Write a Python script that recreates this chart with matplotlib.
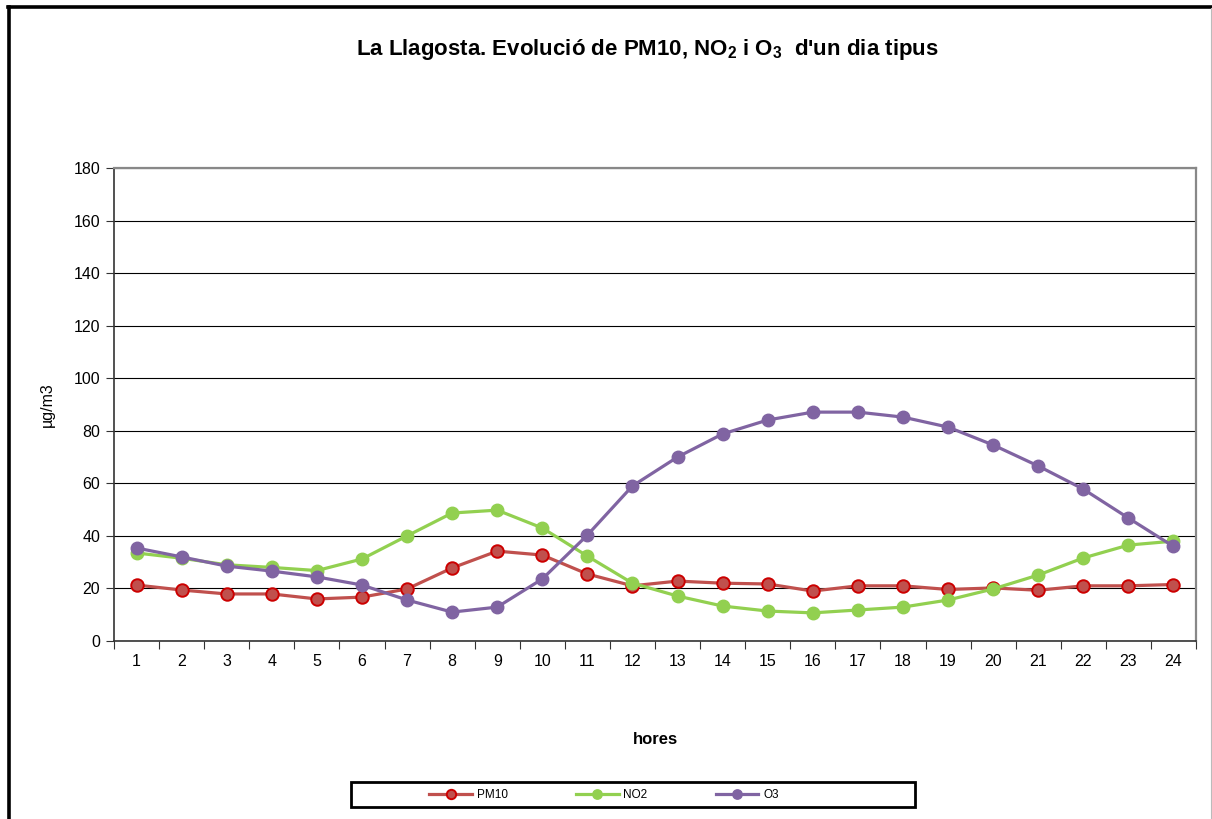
import numpy as np
import matplotlib
matplotlib.use("Agg")
import matplotlib.pyplot as plt
from matplotlib.lines import Line2D
from matplotlib.patches import Rectangle

plt.rcParams.update({
    "font.family": ["Liberation Sans", "DejaVu Sans"],
    "mathtext.fontset": "custom",
    "mathtext.rm": "Liberation Sans",
    "mathtext.bf": "Liberation Sans:bold",
})

# ---------- data ----------------------------------------------------------
hores = list(range(1, 25))
pm10 = [21.3, 19.4, 17.9, 17.9, 16.0, 16.7, 19.8, 27.8, 34.2, 32.7, 25.5, 21.0,
        22.8, 22.0, 21.7, 19.0, 21.0, 21.0, 19.6, 20.2, 19.3, 21.0, 21.0, 21.5]
no2 = [33.5, 31.5, 29.0, 28.0, 26.8, 31.2, 40.0, 48.7, 49.8, 43.0, 32.3, 22.0,
       17.1, 13.3, 11.4, 10.7, 11.8, 12.9, 15.6, 19.8, 25.1, 31.6, 36.5, 38.0]
o3 = [35.4, 32.0, 28.5, 26.6, 24.4, 21.3, 15.6, 11.0, 12.9, 23.6, 40.3, 59.0,
      70.0, 78.8, 84.1, 87.1, 87.1, 85.2, 81.4, 74.6, 66.6, 57.8, 46.8, 36.0]
y_ticks = list(range(0, 181, 20))

W, H = 1212, 819
fig = plt.figure(figsize=(W / 100, H / 100), dpi=100)
ax = fig.add_axes([114 / W, 1 - 641 / H, (1196 - 114) / W, (641 - 168) / H])

ax.plot(hores, pm10, color="#C0504D", lw=2.3, marker="o", ms=9,
        mfc="#C0504D", mec="#CC0000", mew=1.4, label="PM10", zorder=3)
ax.plot(hores, no2, color="#92D050", lw=2.3, marker="o", ms=9,
        mfc="#92D050", mec="#92D050", label="NO2", zorder=3)
ax.plot(hores, o3, color="#8064A2", lw=2.3, marker="o", ms=9,
        mfc="#8064A2", mec="#8064A2", label="O3", zorder=4)

ax.set_xlim(0.5, 24.5)
ax.set_ylim(0, 180)
ax.set_yticks(y_ticks)
ax.set_xticks(hores)
ax.set_xticks(np.arange(0.5, 25, 1), minor=True)
ax.tick_params(axis="x", which="major", length=0, labelsize=11.5, pad=9)
ax.tick_params(axis="x", which="minor", length=6, direction="out",
               width=0.8, color="#333333")
ax.tick_params(axis="y", length=6, direction="out", width=0.8,
               color="#333333", labelsize=11.5, pad=4)
ax.grid(axis="y", color="black", lw=0.8)
ax.set_axisbelow(True)
for s in ("top", "right"):
    ax.spines[s].set_color("#888888")
    ax.spines[s].set_linewidth(1.6)
for s in ("left", "bottom"):
    ax.spines[s].set_color("#333333")
    ax.spines[s].set_linewidth(1.2)

ax.set_ylabel("µg/m3", fontsize=11.5, labelpad=13)
ax.set_xlabel("hores", fontsize=12, fontweight="bold", labelpad=46)

fig.text(647 / W, 1 - 50 / H,
         r"La Llagosta. Evolució de PM10, NO$_{\mathbf{2}}$ i O$_{\mathbf{3}}$  d'un dia tipus",
         ha="center", va="center", fontsize=16, fontweight="bold")

# legend box
fig.add_artist(Rectangle((351 / W, 1 - 807 / H), (915 - 351) / W, 25 / H,
                         transform=fig.transFigure, fill=False,
                         ec="black", lw=2))
fig.legend(loc="center", bbox_to_anchor=(604 / W, 1 - 795 / H), ncol=3,
           frameon=False, fontsize=8.5, handlelength=3.6, handletextpad=0.4,
           columnspacing=5.8, markerscale=0.75)

# outer chart frame
fig.add_artist(Line2D([8.5 / W, 8.5 / W], [0, 1 - 7 / H],
                      transform=fig.transFigure, color="black", lw=2.6))
fig.add_artist(Line2D([7.5 / W, 1], [1 - 7 / H, 1 - 7 / H],
                      transform=fig.transFigure, color="black", lw=2.6))
fig.add_artist(Line2D([1210.5 / W, 1210.5 / W], [0, 1 - 8 / H],
                      transform=fig.transFigure, color="#bbbbbb", lw=0.8))

fig.savefig("out.png", dpi=100)
